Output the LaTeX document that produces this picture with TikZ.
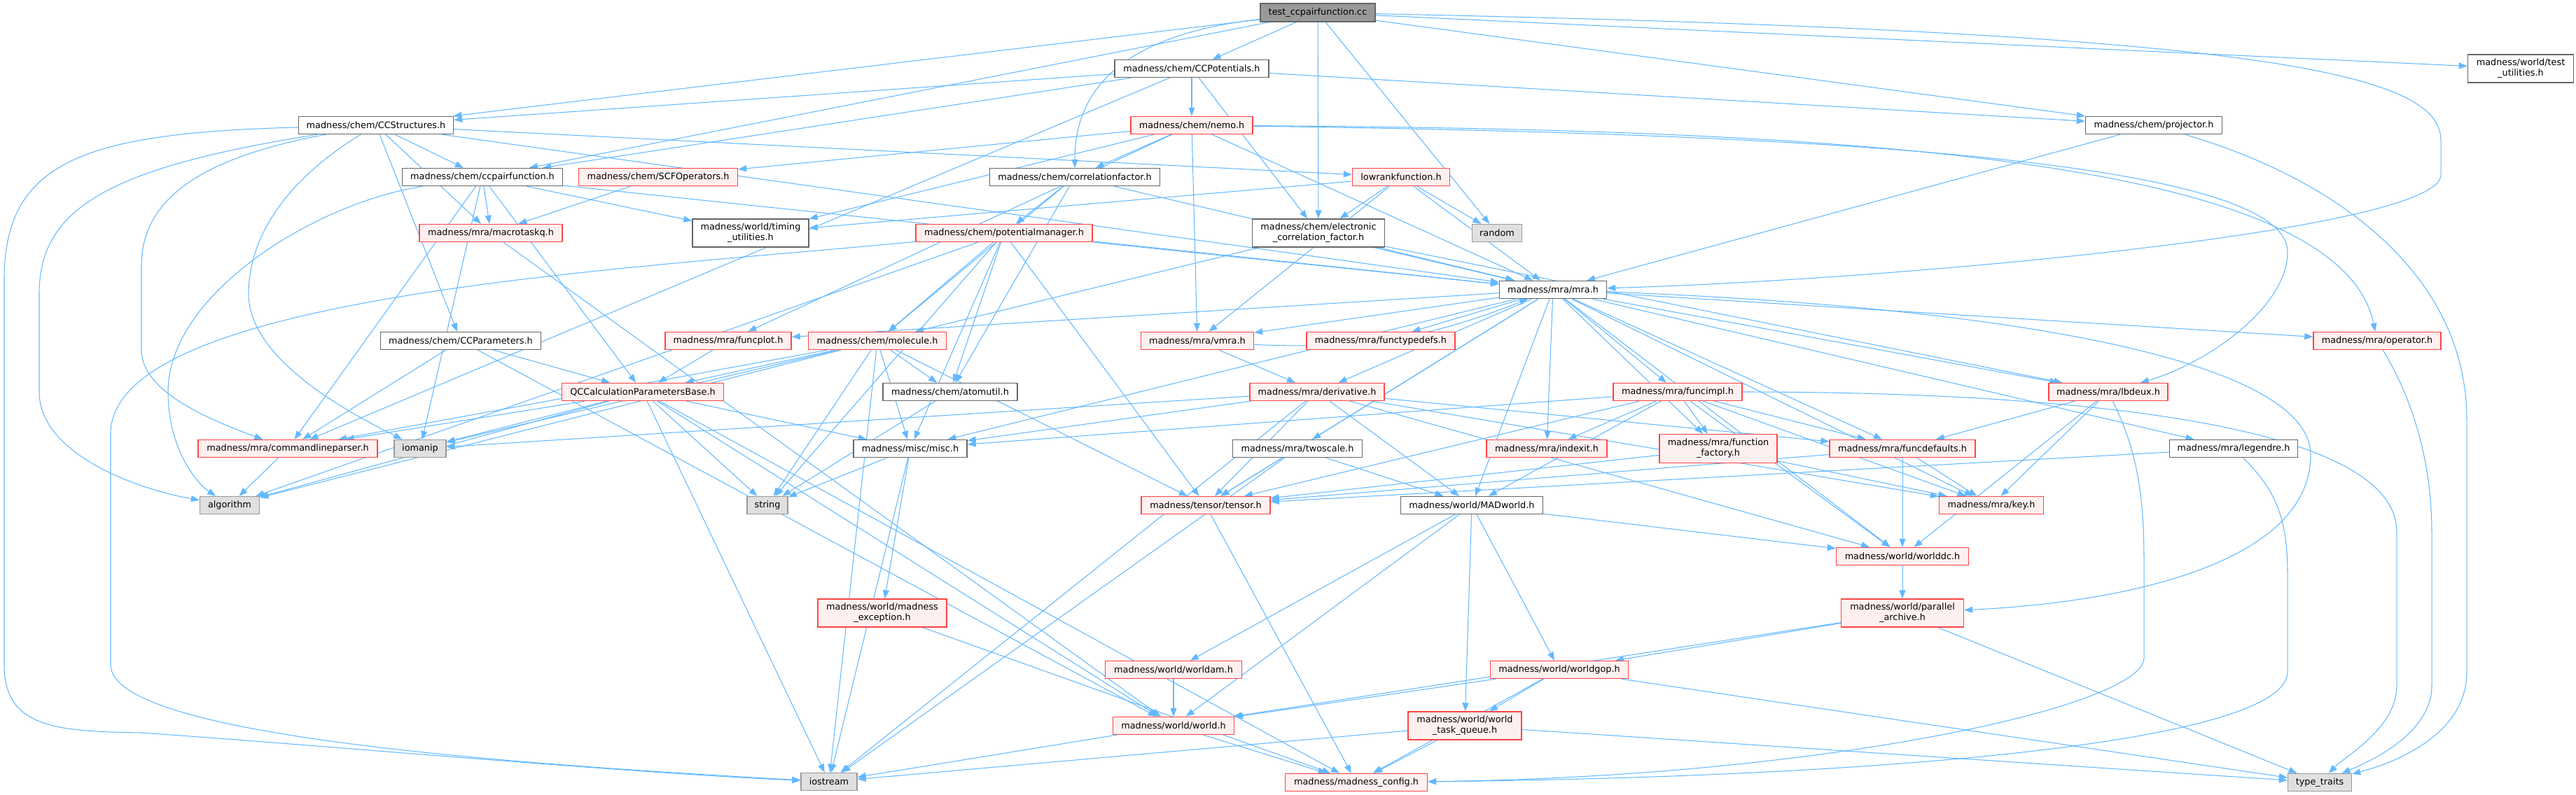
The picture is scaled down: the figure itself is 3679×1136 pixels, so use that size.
\documentclass[tikz,border=0pt]{standalone}
\usepackage{fontspec}
\setmainfont{DejaVu Sans}
\usetikzlibrary{arrows.meta,backgrounds}
\definecolor{edgeblue}{RGB}{99,184,255}
\definecolor{trunc}{RGB}{255,68,68}
\definecolor{truncfill}{RGB}{255,240,240}
\definecolor{sysfill}{RGB}{224,224,224}

\begin{document}
\begin{tikzpicture}[x=0.02cm,y=-0.02cm,
    file/.style={draw=black!60,fill=white,line width=0.8pt,align=center,inner sep=0pt,
      font=\fontsize{7.3}{8.4}\selectfont},
    trfile/.style={file,draw=trunc,fill=truncfill},
    sysfile/.style={file,draw=black!40,fill=sysfill},
    edge/.style={draw=edgeblue,line width=0.6pt,-{Triangle[length=0.24cm,width=0.18cm]}}]
  \useasboundingbox (0,0) rectangle (3679,1136);
  \node[file,fill=black!40,minimum width=3.28cm,minimum height=0.52cm] (test) at (1882,18) {test\_ccpairfunction.cc};
  \foreach \n/\x/\y/\w/\h/\t in {
      ccpot/1702/98/4.40/0.5/{madness/chem/CCPotentials.h},
      ccs/537/179/4.42/0.5/{madness/chem/CCStructures.h},
      proj/3076/179/3.90/0.5/{madness/chem/projector.h},
      testutil/3600/98/3.02/0.8/{madness/world/test\\\_utilities.h},
      ccpair/689/253/4.58/0.5/{madness/chem/ccpairfunction.h},
      corrfac/1535/253/4.86/0.5/{madness/chem/correlationfactor.h},
      timing/1072/333/3.32/0.8/{madness/world/timing\\\_utilities.h},
      ecf/1883/333/3.78/0.8/{madness/chem/electronic\\\_correlation\_factor.h},
      mra/2218/414/3.06/0.5/{madness/mra/mra.h},
      ccparam/658/487/4.58/0.5/{madness/chem/CCParameters.h},
      atomutil/1357/560/3.84/0.5/{madness/chem/atomutil.h},
      misc/1300/641/3.24/0.5/{madness/misc/misc.h},
      twoscale/1853/641/3.70/0.5/{madness/mra/twoscale.h},
      legendre/3190/641/3.66/0.5/{madness/mra/legendre.h},
      madworld/2102/722/4.06/0.5/{madness/world/MADworld.h}}
    {\node[file,minimum width=\w cm,minimum height=\h cm] (\n) at (\x,\y) {\t};}
  \foreach \n/\x/\y/\w/\h/\t in {
      nemo/1702/179/3.48/0.5/{madness/chem/nemo.h},
      scfop/940/253/4.54/0.5/{madness/chem/SCFOperators.h},
      lowrank/2001/253/2.78/0.5/{lowrankfunction.h},
      macrotask/701/333/4.08/0.5/{madness/mra/macrotaskq.h},
      potmgr/1434/333/5.04/0.5/{madness/chem/potentialmanager.h},
      funcplot/1040/487/3.60/0.5/{madness/mra/funcplot.h},
      molecule/1253/487/3.94/0.5/{madness/chem/molecule.h},
      vmra/1710/487/3.22/0.5/{madness/mra/vmra.h},
      functypedefs/1972/487/4.24/0.5/{madness/mra/functypedefs.h},
      operator/3395/487/3.64/0.5/{madness/mra/operator.h},
      qcbase/918/560/4.62/0.5/{QCCalculationParametersBase.h},
      derivative/1881/560/3.84/0.5/{madness/mra/derivative.h},
      funcimpl/2396/560/3.68/0.5/{madness/mra/funcimpl.h},
      lbdeux/3011/560/3.40/0.5/{madness/mra/lbdeux.h},
      cmdparser/411/641/5.12/0.5/{madness/mra/commandlineparser.h},
      indexit/2209/641/3.44/0.5/{madness/mra/indexit.h},
      funcfactory/2454/641/3.36/0.82/{madness/mra/function\\\_factory.h},
      funcdefaults/2717/641/4.16/0.5/{madness/mra/funcdefaults.h},
      tensor/1722/722/3.68/0.5/{madness/tensor/tensor.h},
      key/2844/722/2.98/0.5/{madness/mra/key.h},
      worlddc/2717/795/3.78/0.5/{madness/world/worlddc.h},
      mexcept/1260/876/3.68/0.8/{madness/world/madness\\\_exception.h},
      parchive/2717/876/3.50/0.8/{madness/world/parallel\\\_archive.h},
      worldam/1676/957/3.90/0.5/{madness/world/worldam.h},
      worldgop/2227/957/3.94/0.5/{madness/world/worldgop.h},
      world/1676/1037/3.46/0.5/{madness/world/world.h},
      taskq/2092/1037/3.24/0.8/{madness/world/world\\\_task\_queue.h},
      mconfig/1937/1118/4.06/0.5/{madness/madness\_config.h}}
    {\node[trfile,minimum width=\w cm,minimum height=\h cm] (\n) at (\x,\y) {\t};}
  \foreach \n/\x/\y/\w/\t in {random/2138/333/1.42/random, iomanip/600/641/1.48/iomanip,
      algorithm/328/722/1.70/algorithm, string/1096/722/1.16/string,
      iostream/1184/1117/1.60/iostream, typetraits/3313/1118/1.82/{type\_traits}}
    {\node[sysfile,minimum width=\w cm,minimum height=0.5cm] (\n) at (\x,\y) {\t};}

  \begin{pgfonlayer}{background}
  \foreach \a/\b in {test/ccs,test/ccpair,test/ccpot,test/ecf,test/random,test/proj,test/testutil,
      ccpot/ccs,ccpot/ccpair,ccpot/nemo,ccpot/proj,ccpot/ecf,ccpot/cmdparser,
      ccs/ccparam,ccs/macrotask,ccs/ccpair,ccs/lowrank,ccs/mra,
      ccpair/cmdparser,ccpair/iomanip,ccpair/macrotask,ccpair/qcbase,ccpair/timing,ccpair/mra,
      scfop/macrotask,nemo/scfop,nemo/corrfac,nemo/timing,nemo/vmra,nemo/funcplot,nemo/mra,
      corrfac/molecule,corrfac/potmgr,corrfac/atomutil,corrfac/mra,
      potmgr/algorithm,potmgr/molecule,potmgr/atomutil,potmgr/string,potmgr/misc,potmgr/tensor,potmgr/mra,
      ecf/mra,ecf/molecule,ecf/lbdeux,
      lowrank/ecf,lowrank/random,lowrank/timing,lowrank/mra,lowrank/vmra,proj/mra,
      mra/functypedefs,mra/derivative,mra/funcimpl,mra/indexit,mra/funcfactory,mra/funcdefaults,
      mra/madworld,mra/twoscale,mra/misc,mra/tensor,mra/lbdeux,mra/legendre,mra/operator,mra/key,
      mra/worlddc,mra/vmra,mra/funcplot,vmra/derivative,funcplot/qcbase,
      molecule/qcbase,molecule/cmdparser,molecule/iomanip,molecule/string,molecule/iostream,
      molecule/atomutil,molecule/misc,molecule/tensor,molecule/algorithm,
      qcbase/cmdparser,qcbase/iomanip,qcbase/algorithm,qcbase/string,qcbase/iostream,qcbase/misc,
      qcbase/mconfig,qcbase/world,ccparam/cmdparser,ccparam/world,ccparam/qcbase,
      cmdparser/algorithm,atomutil/string,misc/string,misc/iostream,misc/mexcept,mexcept/mconfig,
      derivative/iomanip,derivative/misc,derivative/tensor,derivative/madworld,derivative/key,
      derivative/funcdefaults,derivative/iostream,derivative/worlddc,
      funcimpl/misc,funcimpl/tensor,funcimpl/indexit,funcimpl/funcfactory,funcimpl/funcdefaults,
      funcimpl/madworld,funcimpl/key,funcimpl/worlddc,
      twoscale/tensor,twoscale/madworld,twoscale/iostream,funcfactory/tensor,funcfactory/key,
      funcdefaults/tensor,funcdefaults/key,funcdefaults/worlddc,
      lbdeux/funcdefaults,lbdeux/key,lbdeux/worlddc,legendre/tensor,tensor/mconfig,
      madworld/worldam,madworld/world,madworld/worlddc,madworld/taskq,madworld/worldgop,
      worldam/world,world/iostream,world/mconfig,
      worldgop/world,worldgop/taskq,worldgop/typetraits,worldgop/mconfig,
      taskq/iostream,taskq/mconfig,taskq/typetraits,
      parchive/worldgop,parchive/world,parchive/typetraits,worlddc/parchive,macrotask/world}
    {\draw[edge] (\a) -- (\b);}
  \draw[edge] (vmra) to[bend right=12] (mra);
  \draw[edge] (test) .. controls (1600,50) and (1535,130) .. (corrfac);
  \draw[edge] (test) .. controls (3200,45) and (3486,100) .. (3486,200) -- (3486,250)
    .. controls (3486,330) and (2700,400) .. (mra);
  \draw[edge] (ccs) .. controls (120,190) and (6,230) .. (6,400) -- (6,950)
    .. controls (6,1040) and (80,1045) .. (200,1047) .. controls (400,1060) and (900,1105) .. (iostream);
  \draw[edge] (ccs) .. controls (150,240) and (56,300) .. (56,420) -- (56,560)
    .. controls (56,650) and (200,700) .. (algorithm);
  \draw[edge] (ccs) .. controls (260,230) and (202,300) .. (202,380) -- (202,500)
    .. controls (202,560) and (300,600) .. (cmdparser);
  \draw[edge] (ccs) .. controls (420,250) and (355,330) .. (355,420)
    .. controls (355,520) and (520,600) .. (iomanip);
  \draw[edge] (ccpair) .. controls (450,290) and (240,420) .. (240,560)
    .. controls (240,640) and (280,690) .. (algorithm);
  \draw[edge] (potmgr) .. controls (900,385) and (158,420) .. (158,620) -- (158,950)
    .. controls (158,1050) and (700,1090) .. (iostream);
  \draw[edge] (mra) .. controls (2900,440) and (3300,520) .. (3300,650)
    .. controls (3300,800) and (3050,860) .. (parchive);
  \draw[edge] (funcimpl) .. controls (2800,560) and (3423,580) .. (3423,760) -- (3423,980)
    .. controls (3423,1040) and (3350,1080) .. (typetraits);
  \draw[edge] (operator) .. controls (3440,560) and (3473,650) .. (3473,760) -- (3473,980)
    .. controls (3473,1050) and (3380,1090) .. (typetraits);
  \draw[edge] (proj) .. controls (3350,260) and (3523,400) .. (3523,600) -- (3523,960)
    .. controls (3523,1050) and (3420,1090) .. (typetraits);
  \draw[edge] (lbdeux) .. controls (3050,640) and (3062,700) .. (3062,800) -- (3062,940)
    .. controls (3062,1010) and (2600,1110) .. (mconfig);
  \draw[edge] (legendre) .. controls (3250,700) and (3267,740) .. (3267,820) -- (3267,960)
    .. controls (3267,1060) and (2700,1110) .. (mconfig);
  \draw[edge] (nemo) .. controls (2500,190) and (3267,220) .. (3267,360)
    .. controls (3267,440) and (3150,520) .. (lbdeux);
  \draw[edge] (nemo) .. controls (2600,185) and (3340,220) .. (operator);
  \end{pgfonlayer}
\end{tikzpicture}
\end{document}
